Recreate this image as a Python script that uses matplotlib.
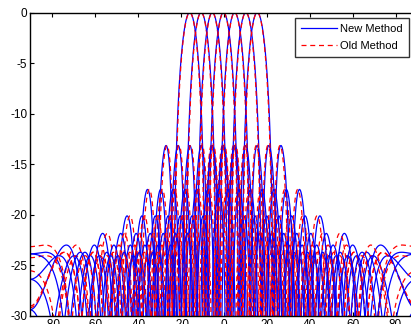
import numpy as np
import matplotlib
matplotlib.use("Agg")
from matplotlib import pyplot as plt

plt.rcParams['font.family'] = ['Liberation Sans', 'DejaVu Sans']
plt.rcParams['axes.unicode_minus'] = False

# beam steering angles (deg) read from the main lobe peaks
steer_new = [-15.7, -10.4, -5.2, 0.0, 5.2, 10.4, 15.7]
steer_old = [-15.7, -10.4, -5.2, 0.0, 5.2, 10.4, 15.7]
n_elem = 16          # array size, from sidelobe spacing / edge level
old_scale = 1.04     # old method lobes sit slightly closer to the beam
x_ticks = [-80, -60, -40, -20, 0, 20, 40, 60, 80]
y_ticks = [0, -5, -10, -15, -20, -25, -30]

theta = np.linspace(-90, 90, 3601)
u = np.sin(np.deg2rad(theta))


def pattern(u0, s):
    psi = np.pi * (u - u0) * s
    num = np.sin(n_elem * psi / 2)
    den = n_elem * np.sin(psi / 2)
    af = np.ones_like(psi)
    ok = np.abs(den) > 1e-9
    af[ok] = np.abs(num[ok] / den[ok])
    return 20 * np.log10(np.maximum(af, 1e-6))


fig = plt.figure(figsize=(4.11, 3.24), dpi=100)
ax = fig.add_axes([30 / 411, 1 - 316 / 324, (417 - 30) / 411, (316 - 12.5) / 324])

for i in range(len(steer_new)):
    u0 = np.sin(np.deg2rad(steer_new[i]))
    ax.plot(theta, pattern(u0, 1.0), color="b", lw=0.9,
            label="New Method" if i == 0 else None)
    u0 = np.sin(np.deg2rad(steer_old[i]))
    ax.plot(theta, pattern(u0, old_scale), color="r", lw=0.9, ls="--", dashes=(4, 3),
            label="Old Method" if i == 0 else None)

ax.set_xlim(-90, 90)
ax.set_ylim(-30, 0)
ax.set_xticks(x_ticks)
ax.set_yticks(y_ticks)
ax.tick_params(direction="in", length=3, width=0.8, labelsize=8.5,
               top=True, right=True, pad=2)
for sp in ax.spines.values():
    sp.set_linewidth(1.0)

h, l = ax.get_legend_handles_labels()
leg = fig.legend(h, l, loc="upper right", bbox_to_anchor=(409 / 411, 1 - 18 / 324),
                 fontsize=8, frameon=True, fancybox=False, borderaxespad=0,
                 handlelength=3.2, handletextpad=0.3, borderpad=0.55, labelspacing=0.65)
leg.get_frame().set_edgecolor("black")
leg.get_frame().set_linewidth(1.0)

fig.savefig("out.png", dpi=100)
